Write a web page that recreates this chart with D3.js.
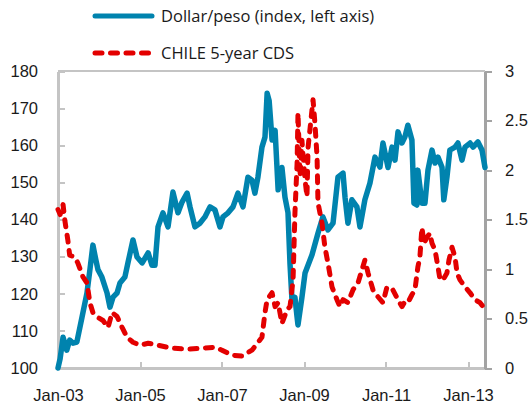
<!DOCTYPE html>
<html>
<head>
<meta charset="utf-8">
<script src="https://cdn.jsdelivr.net/npm/d3@7"></script>
<style>
  html, body { margin: 0; padding: 0; background: #fff; }
  svg { display: block; font-family: "Open Sans", "Noto Sans", sans-serif; }
</style>
</head>
<body>
<svg id="chart" width="531" height="412"></svg>
<script>
// Dollar/peso index (left axis), approximate weekly path
const pesoDates = [
  "2003-01-01","2003-01-20","2003-02-15","2003-03-20","2003-04-15","2003-05-15","2003-06-18","2003-08-03",
  "2003-09-16","2003-10-12","2003-11-08","2003-12-05","2003-12-23","2004-01-27","2004-03-13","2004-04-08",
  "2004-05-05","2004-06-10","2004-07-06","2004-08-19","2004-09-15","2004-10-30","2004-12-05","2005-01-20",
  "2005-03-14","2005-04-17","2005-05-14","2005-06-10","2005-07-24","2005-09-07","2005-10-21","2005-12-05",
  "2006-01-10","2006-02-24","2006-03-22","2006-05-05","2006-06-18","2006-08-02","2006-09-16","2006-10-30",
  "2006-12-14","2007-01-10","2007-02-24","2007-04-09","2007-05-23","2007-07-07","2007-08-20","2007-09-25",
  "2007-10-21","2007-11-17","2007-12-23","2008-01-19","2008-02-07","2008-02-25","2008-03-22","2008-04-18",
  "2008-05-15","2008-06-18","2008-07-15","2008-08-11","2008-08-29","2008-09-16","2008-10-12","2008-10-31",
  "2008-11-08","2008-12-13","2009-01-10","2009-03-13","2009-05-05","2009-06-18","2009-08-02","2009-09-16",
  "2009-10-30","2009-12-14","2010-01-01","2010-01-27","2010-03-03","2010-04-17","2010-05-14","2010-06-27",
  "2010-08-11","2010-09-25","2010-11-08","2010-12-05","2011-01-19","2011-02-24","2011-03-22","2011-04-18",
  "2011-05-23","2011-06-18","2011-07-15","2011-08-20","2011-09-07","2011-10-03","2011-10-12","2011-11-17",
  "2011-12-14","2012-01-10","2012-02-15","2012-03-13","2012-04-08","2012-05-14","2012-05-30","2012-06-27",
  "2012-07-23","2012-09-07","2012-10-03","2012-11-08","2012-12-05","2013-01-19","2013-02-15","2013-03-30",
  "2013-05-05","2013-06-01"
];
const pesoValues = [
  100.0,102.5,108.3,104.8,107.5,106.7,107.0,113.7,
  120.2,126.4,133.1,129.0,126.5,124.5,120.2,116.4,
  119.1,120.2,122.9,124.5,128.3,134.5,129.9,128.3,
  131.0,127.7,127.7,138.0,141.8,138.0,147.4,141.8,
  144.7,147.1,143.4,138.0,139.0,140.7,143.4,142.6,
  138.0,140.7,141.8,143.4,147.1,143.4,151.4,150.6,
  147.1,151.4,159.5,162.2,174.0,172.0,161.4,164.0,
  148.0,154.0,146.0,141.8,128.0,118.0,119.0,113.7,
  111.6,119.0,125.6,130.5,136.3,140.7,137.2,139.0,
  151.4,152.5,146.0,139.0,145.3,143.4,138.0,145.3,
  149.8,156.8,154.1,160.6,154.0,159.5,156.0,163.6,
  160.6,162.2,165.4,161.4,144.4,143.9,153.3,144.4,
  144.4,153.3,158.7,155.2,156.8,154.1,145.3,151.4,
  158.7,159.5,160.6,156.0,159.5,160.6,159.5,160.9,
  158.7,154.0
];

// Chile 5-year CDS (right axis, percentage points)
const cdsDates = [
  "2003-01-01","2003-01-20","2003-02-15","2003-03-03","2003-03-30","2003-04-15","2003-05-30","2003-06-27",
  "2003-08-11","2003-09-16","2003-10-12","2003-11-08","2003-12-23","2004-02-06","2004-03-22","2004-04-27",
  "2004-06-10","2004-07-25","2004-09-07","2004-10-30","2005-01-01","2005-03-14","2005-06-10","2005-10-12",
  "2006-03-03","2006-07-06","2006-10-30","2007-01-01","2007-03-30","2007-06-27","2007-09-25","2007-12-23",
  "2008-01-19","2008-02-07","2008-03-22","2008-04-18","2008-05-15","2008-06-18","2008-08-03","2008-08-29",
  "2008-09-25","2008-10-12","2008-10-31","2008-11-08","2008-11-26","2008-12-13","2009-01-10","2009-01-27",
  "2009-02-06","2009-03-13","2009-03-22","2009-04-08","2009-04-27","2009-05-05","2009-06-10","2009-07-06",
  "2009-08-02","2009-09-07","2009-10-21","2009-11-17","2009-12-14","2010-01-27","2010-03-13","2010-04-27",
  "2010-06-27","2010-07-25","2010-09-07","2010-10-21","2010-12-05","2011-01-10","2011-03-03","2011-04-18",
  "2011-05-23","2011-06-18","2011-07-15","2011-08-20","2011-09-16","2011-10-12","2011-10-30","2011-11-17",
  "2011-12-05","2012-01-01","2012-01-27","2012-02-15","2012-03-13","2012-04-08","2012-04-27","2012-05-23",
  "2012-06-27","2012-07-15","2012-08-11","2012-09-07","2012-09-25","2012-10-21","2012-12-05","2013-01-19",
  "2013-03-03","2013-04-18","2013-05-14"
];
const cdsValues = [
  1.60,1.55,1.65,1.49,1.29,1.14,1.12,1.06,
  0.92,0.86,0.66,0.56,0.51,0.48,0.41,0.56,
  0.52,0.41,0.31,0.26,0.23,0.25,0.23,0.20,
  0.19,0.20,0.21,0.18,0.13,0.12,0.18,0.31,
  0.56,0.69,0.76,0.62,0.66,0.45,0.59,0.62,
  0.89,1.57,2.07,2.58,1.93,2.30,1.90,1.73,
  2.23,2.61,2.71,2.47,2.13,1.67,1.46,1.22,
  1.06,0.82,0.69,0.62,0.69,0.66,0.79,0.86,
  1.09,0.96,0.79,0.72,0.66,0.82,0.79,0.69,
  0.62,0.67,0.66,0.74,0.79,1.02,1.12,1.42,
  1.26,1.32,1.36,1.26,1.19,1.02,0.89,0.89,
  0.96,1.09,1.22,1.12,0.96,0.89,0.82,0.76,
  0.69,0.66,0.62
];

const leftTicks = [100, 110, 120, 130, 140, 150, 160, 170, 180];
const rightTicks = [0, 0.5, 1, 1.5, 2, 2.5, 3];
const xTickDates = ["2003-01-01","2005-01-01","2007-01-01","2009-01-01","2011-01-01","2013-01-01"];
const legendLabels = ["Dollar/peso (index, left axis)", "CHILE 5-year CDS"];

const parse = d3.timeParse("%Y-%m-%d");
const peso = pesoDates.map((d, i) => ({ date: parse(d), value: pesoValues[i] }));
const cds = cdsDates.map((d, i) => ({ date: parse(d), value: cdsValues[i] }));

const BLUE = "#0083ae";
const RED = "#e30000";
const AXIS = "#c4c4c4";
const AXIS_R = "#a3a3a3";
const TEXT = "#1a1a1a";
const FONT_SIZE = "16.5px";

const plot = { left: 58, right: 485, top: 71, bottom: 368 };

const svg = d3.select("#chart");

const x = d3.scaleTime()
  .domain([parse("2003-01-01"), parse("2013-06-01")])
  .range([plot.left, plot.right]);
const yL = d3.scaleLinear().domain([100, 180]).range([plot.bottom, plot.top]);
const yR = d3.scaleLinear().domain([0, 3]).range([plot.bottom, plot.top]);

// frame: top border
svg.append("line")
  .attr("x1", plot.left).attr("x2", plot.right)
  .attr("y1", plot.top).attr("y2", plot.top)
  .attr("stroke", AXIS).attr("stroke-width", 2);

// left axis, ticks pointing inward
const gL = svg.append("g")
  .attr("transform", `translate(${plot.left},0)`)
  .call(d3.axisLeft(yL).tickValues(leftTicks).tickSizeInner(-7).tickSizeOuter(0).tickPadding(20));
gL.select(".domain").attr("stroke", AXIS).attr("stroke-width", 2.5);
gL.selectAll(".tick line").attr("stroke", AXIS).attr("stroke-width", 2);
gL.selectAll(".tick text").attr("fill", TEXT).style("font-size", FONT_SIZE);

// bottom axis, ticks pointing inward
const gB = svg.append("g")
  .attr("transform", `translate(0,${plot.bottom})`)
  .call(d3.axisBottom(x).tickValues(xTickDates.map(parse)).tickFormat(d3.timeFormat("%b-%y"))
    .tickSizeInner(-6).tickSizeOuter(0).tickPadding(21));
gB.select(".domain").attr("stroke", AXIS).attr("stroke-width", 2.5);
gB.selectAll(".tick line").attr("stroke", AXIS).attr("stroke-width", 2);
gB.selectAll(".tick text").attr("fill", TEXT).style("font-size", FONT_SIZE);

// right axis, ticks pointing outward
const gR = svg.append("g")
  .attr("transform", `translate(${plot.right},0)`)
  .call(d3.axisRight(yR).tickValues(rightTicks).tickFormat(d3.format("~g"))
    .tickSizeInner(7).tickSizeOuter(0).tickPadding(13));
gR.select(".domain").attr("stroke", AXIS_R).attr("stroke-width", 2.5);
gR.selectAll(".tick line").attr("stroke", AXIS_R).attr("stroke-width", 2);
gR.selectAll(".tick text").attr("fill", TEXT).style("font-size", FONT_SIZE);

svg.selectAll(".domain, .tick line").attr("shape-rendering", "crispEdges");

// series
const linePeso = d3.line().x(d => x(d.date)).y(d => yL(d.value)).curve(d3.curveLinear);
const lineCds = d3.line().x(d => x(d.date)).y(d => yR(d.value)).curve(d3.curveLinear);

svg.append("path")
  .datum(peso)
  .attr("d", linePeso)
  .attr("fill", "none")
  .attr("stroke", BLUE)
  .attr("stroke-width", 5.5)
  .attr("stroke-linejoin", "round")
  .attr("stroke-linecap", "round");

svg.append("path")
  .datum(cds)
  .attr("d", lineCds)
  .attr("fill", "none")
  .attr("stroke", RED)
  .attr("stroke-width", 5)
  .attr("stroke-dasharray", "7,8.5")
  .attr("stroke-linejoin", "round")
  .attr("stroke-linecap", "round");

// legend
const legend = svg.append("g");
const legendItems = [
  { label: legendLabels[0], color: BLUE, dash: null, y: 16 },
  { label: legendLabels[1], color: RED, dash: "7,8.5", y: 53 }
];
legendItems.forEach(item => {
  legend.append("line")
    .attr("x1", 95).attr("x2", 152)
    .attr("y1", item.y).attr("y2", item.y)
    .attr("stroke", item.color)
    .attr("stroke-width", 5)
    .attr("stroke-linecap", "round")
    .attr("stroke-dasharray", item.dash);
  legend.append("text")
    .attr("x", 161).attr("y", item.y)
    .attr("dy", "0.35em")
    .attr("fill", TEXT)
    .style("font-size", FONT_SIZE)
    .text(item.label);
});
</script>
</body>
</html>
